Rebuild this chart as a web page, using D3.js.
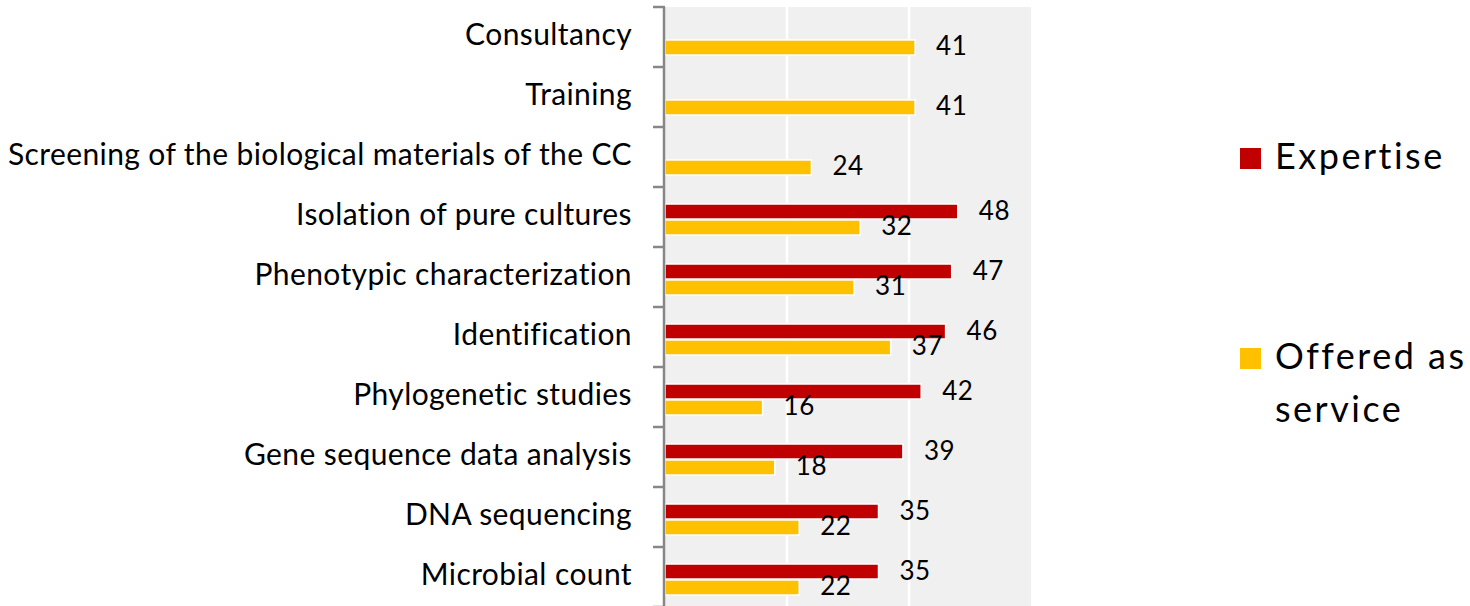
<!DOCTYPE html>
<html>
<head>
<meta charset="utf-8">
<script src="https://cdn.jsdelivr.net/npm/d3@7"></script>
<style>
	body{margin:0;background:#fff;}
	svg{display:block;}
	text{font-family:Lato,"Open Sans",sans-serif;fill:#000;}
</style>
</head>
<body>
<div id="chart_div"></div>
<script>
////////////////////////////////////////
// data
////////////////////////////////////////

var categories = ['Consultancy','Training','Screening of the biological materials of the CC',
	'Isolation of pure cultures','Phenotypic characterization','Identification',
	'Phylogenetic studies','Gene sequence data analysis','DNA sequencing','Microbial count'];
var seriesNames = ['Expertise','Offered as service'];
var expertise = [null,null,null,48,47,46,42,39,35,35];
var offered = [41,41,24,32,31,37,16,18,22,22];
var gridTicks = [20,40];
var colors = ['#c00000','#ffc000'];

////////////////////////////////////////
// layout
////////////////////////////////////////

var W = 1470, H = 606;
var plotLeft = 665, plotRight = 1031, plotTop = 7, plotBottom = 607;

var svg = d3.select('#chart_div').append('svg')
	.attr('width',W)
	.attr('height',H);

var x = d3.scaleLinear().domain([0,60]).range([plotLeft,plotRight]);
var y = d3.scaleBand().domain(categories).range([plotTop,plotBottom]);
var inner = d3.scaleBand().domain(seriesNames).range([17,48]).paddingInner(0.06);

// plot background
svg.append('rect')
	.attr('x',plotLeft)
	.attr('y',plotTop)
	.attr('width',plotRight-plotLeft)
	.attr('height',plotBottom-plotTop)
	.attr('fill','#f0f0f0');

// grid lines
svg.selectAll('.grid').data(gridTicks).enter().append('line')
	.attr('x1',function(d){return x(d);})
	.attr('x2',function(d){return x(d);})
	.attr('y1',plotTop)
	.attr('y2',plotBottom)
	.attr('stroke','#fff')
	.attr('stroke-width',2.5);

////////////////////////////////////////
// bars
////////////////////////////////////////

var series = [expertise,offered];

series.forEach(function(vals,si){
	var rows = categories.map(function(c,i){return {cat:c,v:vals[i]};})
		.filter(function(d){return d.v!==null;});

	svg.selectAll('.bar'+si).data(rows).enter().append('rect')
		.attr('class','bar'+si)
		.attr('x',x(0))
		.attr('y',function(d){return y(d.cat)+inner(seriesNames[si]);})
		.attr('width',function(d){return x(d.v)-x(0);})
		.attr('height',inner.bandwidth())
		.attr('fill',colors[si])
		.attr('stroke','#fff')
		.attr('stroke-width',1.5);

	svg.selectAll('.lab'+si).data(rows).enter().append('text')
		.attr('x',function(d){return x(d.v)+21;})
		.attr('y',function(d){return y(d.cat)+inner(seriesNames[si])+inner.bandwidth()/2+8;})
		.attr('font-size',26)
		.attr('letter-spacing',0.5)
		.text(function(d){return d.v;});
});

////////////////////////////////////////
// axis
////////////////////////////////////////

var axisG = svg.append('g');
axisG.append('line')
	.attr('x1',plotLeft-1).attr('x2',plotLeft-1)
	.attr('y1',plotTop).attr('y2',plotBottom)
	.attr('stroke','#878787').attr('stroke-width',2.5);

var bounds = categories.map(function(c){return y(c);}).concat([plotBottom]);
axisG.selectAll('.tick').data(bounds).enter().append('line')
	.attr('x1',plotLeft-12).attr('x2',plotLeft)
	.attr('y1',function(d){return d;}).attr('y2',function(d){return d;})
	.attr('stroke','#878787').attr('stroke-width',2.5);

svg.selectAll('.cat').data(categories).enter().append('text')
	.attr('x',632)
	.attr('y',function(d){return y(d)+38;})
	.attr('text-anchor','end')
	.attr('font-size',30)
	.attr('letter-spacing',0.4)
	.text(function(d){return d;});

////////////////////////////////////////
// legend
////////////////////////////////////////

var legend = [
	{lines:['Expertise'],y:148},
	{lines:['Offered as','service'],y:348}
];

legend.forEach(function(l,i){
	svg.append('rect')
		.attr('x',1240).attr('y',l.y)
		.attr('width',21).attr('height',21)
		.attr('fill',colors[i]);
	var t = svg.append('text')
		.attr('x',1275)
		.attr('y',l.y+21)
		.attr('font-size',36)
		.attr('letter-spacing',2.5);
	l.lines.forEach(function(s,j){
		t.append('tspan').attr('x',1275).attr('dy',j?53:0).text(s);
	});
});
</script>
</body>
</html>
